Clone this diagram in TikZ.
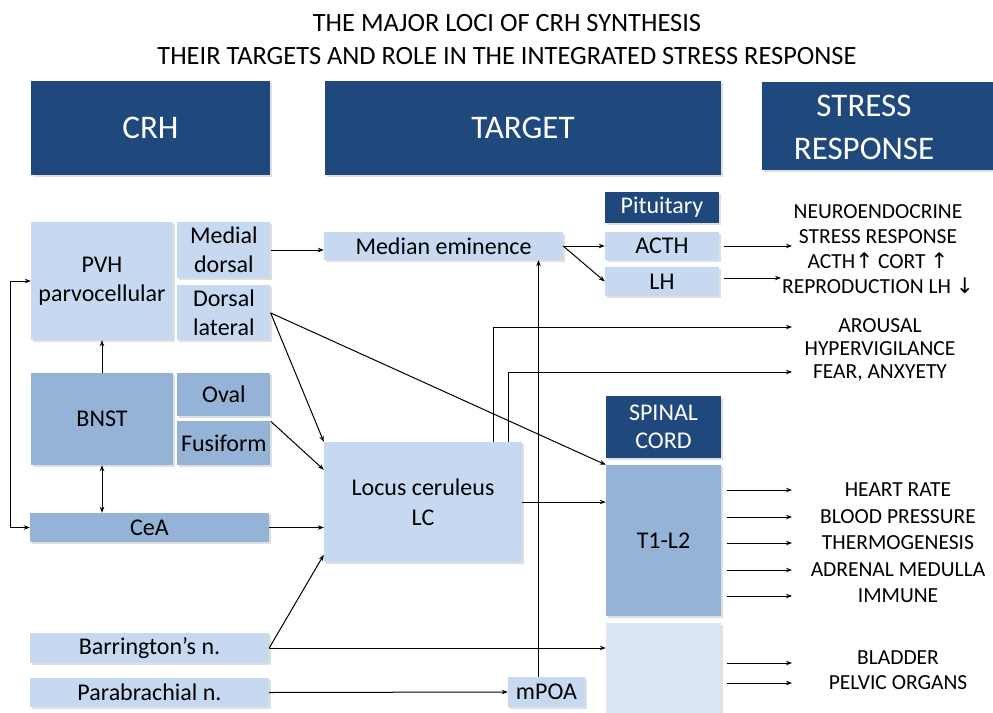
\documentclass[tikz,border=0pt]{standalone}
\usepackage{fontspec}
\setmainfont{Carlito}
\newfontfamily\arrowfont{DejaVu Sans}
\usepackage{tikz}
\usetikzlibrary{arrows.meta, positioning, shadows}

\definecolor{crhdark}{RGB}{31,73,125}
\definecolor{crhlight}{RGB}{198,217,241}
\definecolor{crhmid}{RGB}{149,179,215}
\definecolor{crhpale}{RGB}{220,230,242}

\begin{document}
\begin{tikzpicture}[x=1pt, y=-1pt, >={Stealth[length=6pt, width=4.5pt]},
        crh_box/.style={rectangle, inner sep=0pt, align=center, font=\fontsize{24}{29}\selectfont, drop shadow={shadow xshift=2pt, shadow yshift=-2pt, opacity=0.25}},
        head_block/.style={crh_box, fill=crhdark, text=white, font=\fontsize{33}{43}\selectfont},
        head_text/.style={inner sep=0pt, align=center, text=white, font=\fontsize{33}{43}\selectfont},
        dark_block/.style={crh_box, fill=crhdark, text=white},
        light_block/.style={crh_box, fill=crhlight},
        mid_block/.style={crh_box, fill=crhmid},
        pale_block/.style={crh_box, fill=crhpale},
        resp_text/.style={inner sep=0pt, align=center, font=\fontsize{21.5}{25}\selectfont},
        line/.style={draw, ->, line width=1pt}]

        \useasboundingbox (0,0) rectangle (993,712);

        % Title and column heads
        \node [resp_text, font=\fontsize{26.4}{33}\selectfont] (title) at (507,40) {THE MAJOR LOCI OF CRH SYNTHESIS\\THEIR TARGETS AND ROLE IN THE INTEGRATED STRESS RESPONSE};
        \node [head_block, minimum width=239pt, minimum height=94pt] (crh_head) at (150.5,128) {CRH};
        \node [head_block, minimum width=396pt, minimum height=94pt] (target_head) at (523,128) {TARGET};
        \node [head_block, minimum width=240pt, minimum height=88pt] (resp_head) at (882,126) {};
        \node [head_text] (resp_label) at (864,127) {STRESS\\RESPONSE};

        % CRH nodes
        \node [light_block, minimum width=142pt, minimum height=118pt] (pvh) at (102,281) {PVH\\parvocellular};
        \node [light_block, minimum width=93pt, minimum height=56pt, right=4pt of pvh.north east, anchor=north west] (med_dorsal) {Medial\\dorsal};
        \node [light_block, minimum width=93pt, minimum height=55pt, below=7pt of med_dorsal.south west, anchor=north west] (dors_lateral) {Dorsal\\lateral};
        \node [mid_block, minimum width=142pt, minimum height=92pt] (bnst) at (102,419) {BNST};
        \node [mid_block, minimum width=93pt, minimum height=43pt, right=4pt of bnst.north east, anchor=north west] (oval) {Oval};
        \node [mid_block, minimum width=93pt, minimum height=44pt, below=5pt of oval.south west, anchor=north west] (fusiform) {Fusiform};
        \node [mid_block, minimum width=239pt, minimum height=29pt] (cea) at (149.5,527.5) {CeA};
        \node [light_block, minimum width=239pt, minimum height=30pt] (barrington) at (149.5,648) {Barrington’s n.};
        \node [light_block, minimum width=239pt, minimum height=29pt] (parabrachial) at (149.5,692.5) {Parabrachial n.};

        % Target nodes
        \node [light_block, minimum width=239pt, minimum height=28pt] (median_em) at (443.5,246) {Median eminence};
        \node [light_block, minimum width=198pt, minimum height=120pt, font=\fontsize{24}{30}\selectfont] (lc) at (423,502) {Locus ceruleus\\LC};
        \node [light_block, minimum width=77pt, minimum height=30pt] (mpoa) at (546.5,692) {mPOA};
        \node [dark_block, minimum width=114pt, minimum height=31pt] (pituitary) at (662,207.5) {Pituitary};
        \node [light_block, minimum width=114pt, minimum height=28pt] (acth) at (662,246) {ACTH};
        \node [light_block, minimum width=114pt, minimum height=29pt] (lh) at (662,281.5) {LH};
        \node [dark_block, minimum width=115pt, minimum height=62pt, font=\fontsize{24}{28}\selectfont] (spinal) at (663.5,427) {SPINAL\\CORD};
        \node [mid_block, minimum width=115pt, minimum height=151pt] (t1l2) at (663.5,540.5) {T1-L2};
        \node [pale_block, minimum width=115pt, minimum height=92pt] (lower_sp) at (663.5,669) {};

        % Stress response texts
        \node [resp_text] (neuro_resp) at (878,249) {NEUROENDOCRINE\\STRESS RESPONSE\\ACTH{\arrowfont\char"2191} CORT {\arrowfont\char"2191}\\REPRODUCTION LH {\arrowfont\char"2193}};
        \node [resp_text, font=\fontsize{21.5}{23}\selectfont] (arousal_resp) at (880,350) {AROUSAL\\HYPERVIGILANCE\\FEAR, ANXYETY};
        \node [resp_text] (heart) at (898,490) {HEART RATE};
        \node [resp_text] (pressure) at (898,517) {BLOOD PRESSURE};
        \node [resp_text] (thermo) at (898,543) {THERMOGENESIS};
        \node [resp_text] (adrenal) at (898,570) {ADRENAL MEDULLA};
        \node [resp_text] (immune) at (898,596) {IMMUNE};
        \node [resp_text] (bladder) at (898,658) {BLADDER};
        \node [resp_text] (pelvic) at (898,683) {PELVIC ORGANS};

        % free ends of the output arrows
        \coordinate (out_x) at (792,0);
        \coordinate (lh_in) at (781,278);
        \coordinate (arousal_in) at (792,327);
        \coordinate (fear_in) at (792,372);

        % Paths
        \path [line, <->] (cea.west) -- ++(-19,0) |- (pvh.west); % CeA back to PVH
        \path [line] (bnst.north) -- (pvh.south);
        \path [line, <->] (bnst.south) -- (bnst.south |- cea.north);
        \path [line] (med_dorsal.east) -- (med_dorsal.east -| median_em.west);
        \path [line] (dors_lateral.east) -- (lc.north west);
        \path [line] (dors_lateral.east) -- (t1l2.north west);
        \path [line] (fusiform.north east) -- (lc.162);
        \path [line] (cea.east) -- (cea.east -| lc.west);
        \path [line] (barrington.east) -- (lc.208);
        \path [line] (barrington.east) -- (barrington.east -| lower_sp.west);
        \path [line] (parabrachial.east) -- (mpoa.west);
        \path [line] ([xshift=-8pt]mpoa.north) -- ([xshift=-8pt]mpoa.north |- median_em.south); % mPOA up to the median eminence
        \path [line] (median_em.east) -- (acth.west);
        \path [line] (median_em.east) -- (lh.west);
        \path [line] (lc.east) -- (lc.east -| t1l2.west);

        % Outputs to the stress response
        \path [line, shorten <=5pt] (acth.east) -- (acth.east -| out_x);
        \path [line, shorten <=5pt] (lh.east |- lh_in) -- (lh_in);
        \path [line] ([xshift=70pt]lc.north) |- (arousal_in);
        \path [line] ([xshift=85pt]lc.north) |- (fear_in);
        \path [line, shorten <=6pt] (t1l2.east |- heart) -- (out_x |- heart);
        \path [line, shorten <=6pt] (t1l2.east |- pressure) -- (out_x |- pressure);
        \path [line, shorten <=6pt] (t1l2.east |- thermo) -- (out_x |- thermo);
        \path [line, shorten <=6pt] (t1l2.east |- adrenal) -- (out_x |- adrenal);
        \path [line, shorten <=6pt] (t1l2.east |- immune) -- (out_x |- immune);
        \path [line, shorten <=6pt] ([yshift=-5pt]lower_sp.east |- bladder) -- ([yshift=-5pt]out_x |- bladder);
        \path [line, shorten <=6pt] (lower_sp.east |- pelvic) -- (out_x |- pelvic);
    \end{tikzpicture}
\end{document}
